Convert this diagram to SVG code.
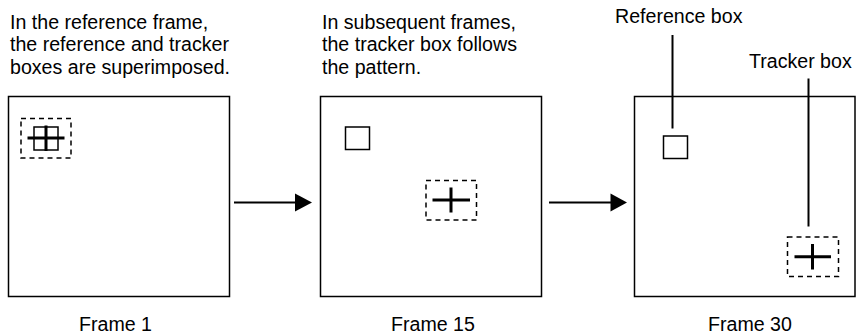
<svg xmlns="http://www.w3.org/2000/svg" width="856" height="334" viewBox="0 0 856 334">
<style>
text{font-family:"Liberation Sans",Arial,sans-serif;font-size:19.6px;fill:#000}
.frame{fill:#fff;stroke:#000;stroke-width:1.5}
.ref{fill:none;stroke:#000;stroke-width:1.5}
.trk{fill:none;stroke:#000;stroke-width:1.5;stroke-dasharray:5 4}
.cross{stroke:#000;stroke-width:3;fill:none}
.conn{stroke:#000;stroke-width:2;fill:none}
</style>
<rect width="856" height="334" fill="#fff"/>
<g id="caption1">
<text x="10" y="28.5">In the reference frame,</text>
<text x="10" y="51">the reference and tracker</text>
<text x="10" y="73.5">boxes are superimposed.</text>
</g>
<g id="caption2">
<text x="322" y="28.5">In subsequent frames,</text>
<text x="322" y="51">the tracker box follows</text>
<text x="322" y="73.5">the pattern.</text>
</g>
<g id="frame1">
<rect class="frame" x="8.5" y="96.5" width="221" height="200"/>
<rect class="trk" x="21" y="118.5" width="50" height="39.5"/>
<rect class="ref" x="34" y="127" width="24" height="23"/>
<path class="cross" d="M27.5 138H64.5M46 125.5V151"/>
<text x="79" y="330.5">Frame 1</text>
</g>
<g id="frame15">
<rect class="frame" x="320.5" y="96.5" width="221" height="200"/>
<rect class="ref" x="345.5" y="127" width="24" height="22.5"/>
<rect class="trk" x="426" y="180.5" width="50.5" height="39.5"/>
<path class="cross" d="M432.5 200H470M451 187.5V212.5"/>
<text x="391" y="330.5">Frame 15</text>
</g>
<g id="frame30">
<rect class="frame" x="634.5" y="96.5" width="220.5" height="200"/>
<rect class="ref" x="663.5" y="136" width="24" height="22.5"/>
<rect class="trk" x="787.5" y="237" width="51" height="39.5"/>
<path class="cross" d="M794.5 256.8H831M812.5 244V269.5"/>
<text x="708" y="330.5">Frame 30</text>
</g>
<g id="label-ref">
<text x="615" y="23">Reference box</text>
</g>
<g id="label-trk">
<text x="749" y="68.3">Tracker box</text>
</g>
<g id="connectors">
<line class="conn" x1="234" y1="202.5" x2="297" y2="202.5"/>
<polygon points="295,193.5 312,202.5 295,211.5" fill="#000"/>
<line class="conn" x1="549" y1="202.5" x2="612" y2="202.5"/>
<polygon points="610.5,193.5 627,202.5 610.5,211.5" fill="#000"/>
<line class="conn" x1="672.5" y1="35" x2="672.5" y2="128.5"/>
<line class="conn" x1="808.5" y1="78.5" x2="808.5" y2="226.5"/>
</g>
</svg>
